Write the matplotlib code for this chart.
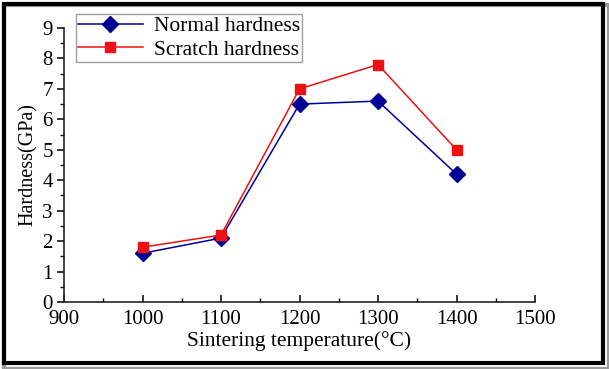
import matplotlib
matplotlib.use('Agg')
from matplotlib import pyplot as plt
from matplotlib.patches import Rectangle
from matplotlib.ticker import MultipleLocator

temps = [1000, 1100, 1200, 1300, 1400]
normal = [1.6, 2.1, 6.5, 6.6, 4.2]
scratch = [1.8, 2.2, 7.0, 7.8, 5.0]

plt.rcParams['font.family'] = ['Liberation Serif', 'DejaVu Serif']

W, H = 609, 369
fig = plt.figure(figsize=(W / 100, H / 100), dpi=100)
ax = fig.add_axes([64 / W, 1 - 302 / H, (535 - 64) / W, (302 - 28) / H])

ax.plot(temps, normal, color='#000096', marker='D', markersize=8.5, lw=1.1,
        label='Normal hardness')
ax.plot(temps, scratch, color='#ee1111', marker='s', markersize=7.5, lw=1.1,
        label='Scratch hardness')

ax.set_xlim(900, 1500)
ax.set_ylim(0, 9)
ax.xaxis.set_major_locator(MultipleLocator(100))
ax.xaxis.set_minor_locator(MultipleLocator(50))
ax.yaxis.set_major_locator(MultipleLocator(1))
ax.yaxis.set_minor_locator(MultipleLocator(0.5))
for s in ['top', 'right']:
    ax.spines[s].set_visible(False)
for s in ['left', 'bottom']:
    ax.spines[s].set_linewidth(1.2)
    ax.spines[s].set_color('#222222')
ax.tick_params(axis='x', which='both', direction='in', labelsize=15, pad=6)
ax.tick_params(axis='y', which='both', direction='out', labelsize=15, pad=3)
ax.tick_params(which='major', length=5, width=1.1)
ax.tick_params(which='minor', length=3, width=1.0)

ax.set_xlabel('Sintering temperature(°C)', fontsize=15.5, labelpad=1)
ax.set_ylabel('Hardness(GPa)', fontsize=14.5, labelpad=3)

leg = ax.legend(loc='upper left', bbox_to_anchor=(76 / W, 1 - 14 / H),
                bbox_transform=fig.transFigure, fontsize=15.5, frameon=True,
                fancybox=False, edgecolor='#888888', handlelength=3.0,
                borderpad=0.1, labelspacing=0.15, handletextpad=0.5,
                borderaxespad=0)
leg.get_frame().set_linewidth(1.0)

# outer frame with shadow
fig.patches.append(Rectangle((4 / W, 0), 1 - 4 / W, 1 - 5 / H, transform=fig.transFigure,
                             facecolor='none', edgecolor='#999999', lw=3, zorder=0))
fig.patches.append(Rectangle((4 / W, 6 / H), 1 - 10 / W, 1 - 10 / H, transform=fig.transFigure,
                             facecolor='none', edgecolor='black', lw=3, zorder=1))

fig.savefig('out.png', dpi=100)
